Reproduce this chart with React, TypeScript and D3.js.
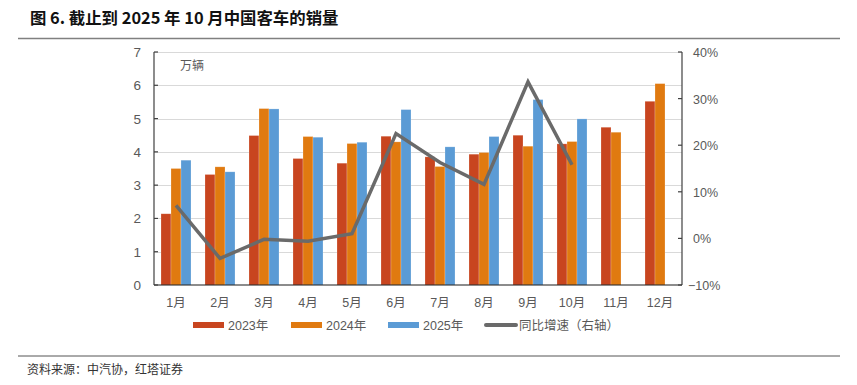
import React from "react";
import * as d3 from "d3";

const months = ["1月", "2月", "3月", "4月", "5月", "6月", "7月", "8月", "9月", "10月", "11月", "12月"];
const sales2023 = [2.14, 3.32, 4.49, 3.8, 3.66, 4.47, 3.85, 3.93, 4.5, 4.24, 4.74, 5.52];
const sales2024 = [3.5, 3.55, 5.3, 4.46, 4.25, 4.3, 3.56, 3.98, 4.17, 4.31, 4.59, 6.05];
const sales2025 = [3.75, 3.4, 5.29, 4.44, 4.29, 5.27, 4.15, 4.46, 5.57, 4.99, null, null];
const yoy = [7.1, -4.3, -0.2, -0.6, 1.0, 22.5, 16.3, 11.6, 33.6, 15.8];
const leftTicks = [0, 1, 2, 3, 4, 5, 6, 7];
const rightTicks = [-10, 0, 10, 20, 30, 40];
const seriesNames = ["2023年", "2024年", "2025年"];
const lineName = "同比增速（右轴）";

const colors = ["#C8451F", "#E07A10", "#5B9BD5"];
const lineColor = "#6A6A6A";
const FONT = "'Liberation Sans', 'Noto Sans CJK SC', sans-serif";
const CJK = "'Noto Sans CJK SC', sans-serif";

export default function App() {
  const W = 857, H = 385;
  const left = 154, right = 682, top = 52, bottom = 285;
  const x = d3.scaleBand<string>().domain(months).range([left, right]).padding(0);
  const y = d3.scaleLinear().domain([0, 7]).range([bottom, top]);
  const y2 = d3.scaleLinear().domain([-10, 40]).range([bottom, top]);
  const barW = 10;
  const groupW = barW * 3;
  const series = [sales2023, sales2024, sales2025];
  const line = d3
    .line<number>()
    .x((_, i) => (x(months[i]) as number) + x.bandwidth() / 2)
    .y((d) => y2(d));

  const legendItems = [
    { sx: 193, tx: 228, color: colors[0], label: seriesNames[0], type: "bar" },
    { sx: 291, tx: 326, color: colors[1], label: seriesNames[1], type: "bar" },
    { sx: 388, tx: 423, color: colors[2], label: seriesNames[2], type: "bar" },
    { sx: 484, tx: 519, color: lineColor, label: lineName, type: "line" },
  ];

  return (
    <svg width={W} height={H} style={{ position: "absolute", left: 0, top: 0, background: "#fff" }}>
      <rect width={W} height={H} fill="#fff" />
      <text x={30} y={24} fontFamily={CJK} fontWeight="bold" fontSize={16.4} fill="#111">
        图 6. 截止到 2025 年 10 月中国客车的销量
      </text>
      <line x1={18} x2={840} y1={38.5} y2={38.5} stroke="#808080" strokeWidth={1.5} />

      {leftTicks.slice(1).map((t) => (
        <line key={"g" + t} x1={left} x2={right} y1={Math.round(y(t)) + 0.5} y2={Math.round(y(t)) + 0.5} stroke="#D9D9D9" strokeWidth={1} />
      ))}

      {series.map((vals, si) =>
        vals.map((v, i) =>
          v == null ? null : (
            <rect
              key={si + "-" + i}
              x={(x(months[i]) as number) + (x.bandwidth() - groupW) / 2 + si * barW}
              y={y(v)}
              width={barW}
              height={bottom - y(v)}
              fill={colors[si]}
              stroke="#fff"
              strokeOpacity={0.35}
              strokeWidth={0.6}
            />
          )
        )
      )}

      <line x1={left} x2={left} y1={top} y2={bottom} stroke="#404040" strokeWidth={1.2} />
      <line x1={right} x2={right} y1={top} y2={bottom} stroke="#404040" strokeWidth={1.2} />
      <line x1={left} x2={right} y1={bottom} y2={bottom} stroke="#1a1a1a" strokeWidth={1.2} />
      {leftTicks.map((t) => (
        <g key={"l" + t}>
          <line x1={left} x2={left + 4} y1={y(t)} y2={y(t)} stroke="#404040" strokeWidth={1.2} />
          <text x={141} y={y(t) + 5} textAnchor="end" fontFamily={FONT} fontSize={13.5} fill="#595959">
            {t}
          </text>
        </g>
      ))}
      {rightTicks.map((t) => (
        <g key={"r" + t}>
          <line x1={right - 4} x2={right} y1={y2(t)} y2={y2(t)} stroke="#404040" strokeWidth={1.2} />
          <text x={t < 0 ? 688 : 693} y={y2(t) + 5} fontFamily={FONT} fontSize={12.5} fill="#595959">
            {t < 0 ? "−" + Math.abs(t) + "%" : t + "%"}
          </text>
        </g>
      ))}
      {months.map((m) => (
        <text key={m} x={(x(m) as number) + x.bandwidth() / 2} y={307} textAnchor="middle" fontFamily={FONT} fontSize={12.5} fill="#595959">
          {m}
        </text>
      ))}
      <text x={180} y={70} fontFamily={CJK} fontSize={12} fill="#595959">万辆</text>

      <path d={line(yoy) as string} fill="none" stroke={lineColor} strokeWidth={3.5} strokeLinejoin="miter" />

      {legendItems.map((it) =>
        <g key={it.label}>
          {it.type === "bar" ? (
            <rect x={it.sx} y={322} width={31} height={6} fill={it.color} />
          ) : (
            <line x1={it.sx + 2} x2={it.sx + 32} y1={325} y2={325} stroke={it.color} strokeWidth={4} strokeLinecap="round" />
          )}
          <text x={it.tx} y={330} fontFamily={FONT} fontSize={12.5} fill="#595959">{it.label}</text>
        </g>
      )}

      <line x1={18} x2={840} y1={356} y2={356} stroke="#555" strokeWidth={1} />
      <text x={27} y={374} fontFamily={CJK} fontSize={12} fill="#333">资料来源：中汽协，红塔证券</text>
    </svg>
  );
}
